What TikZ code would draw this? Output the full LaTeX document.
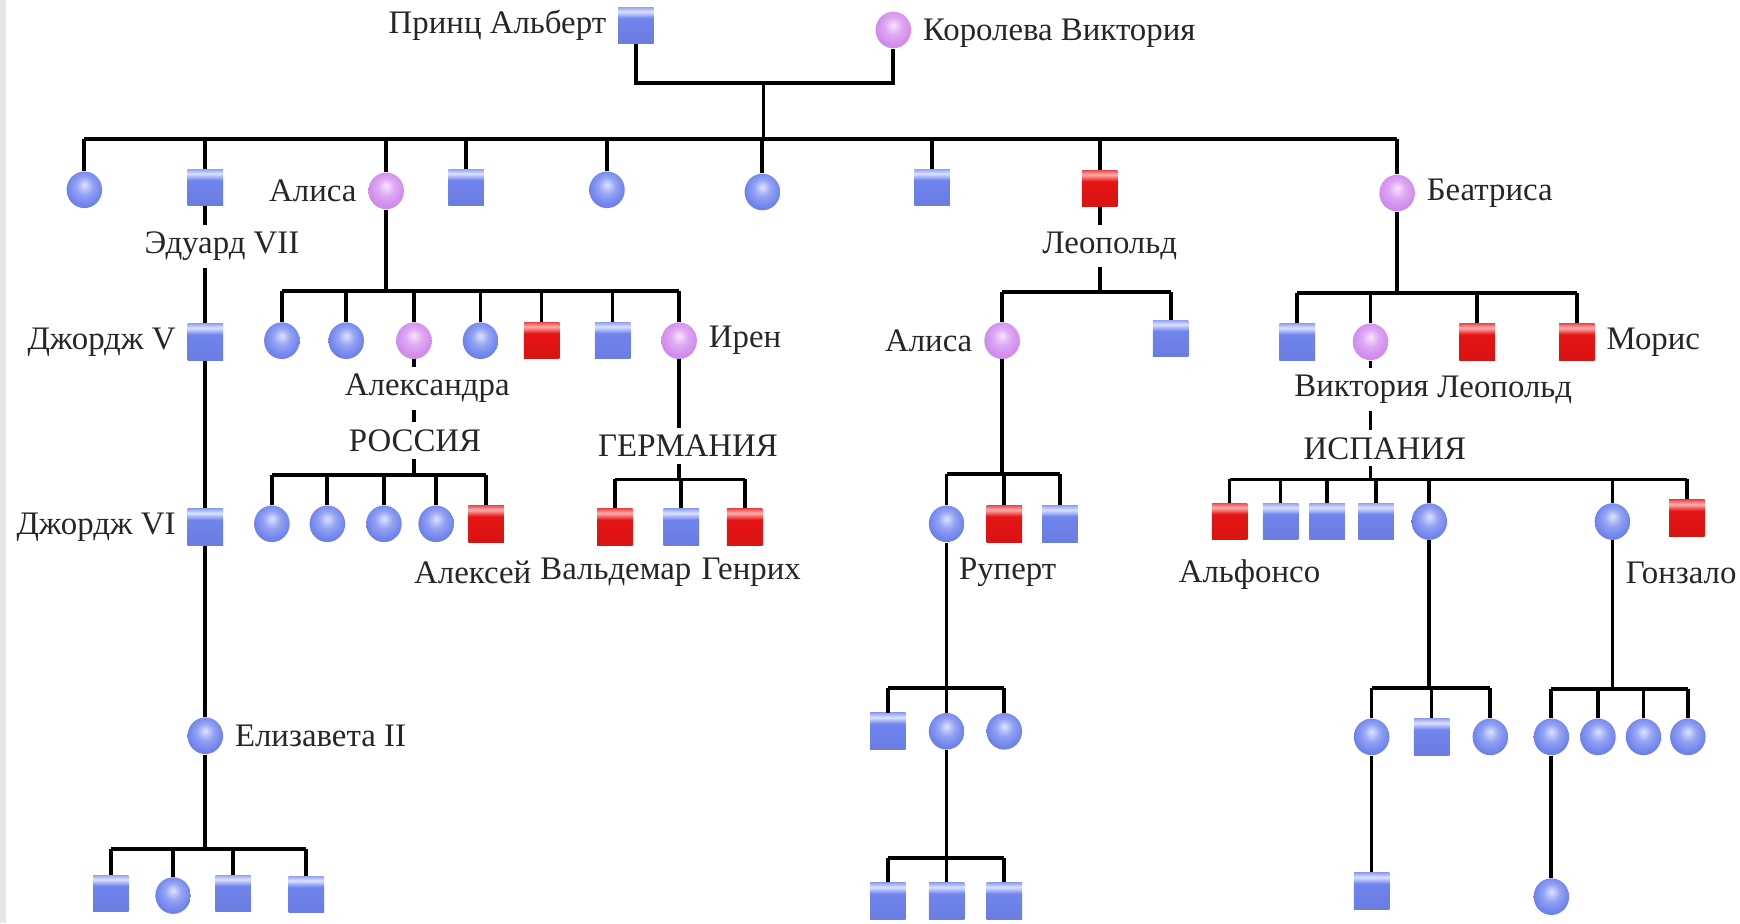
\documentclass[tikz,border=0pt]{standalone}
\usepackage{fontspec}
\setmainfont{Liberation Serif}
\usepackage{xcolor}
\usetikzlibrary{shapes.geometric, positioning}

\definecolor{pedBlue}{RGB}{112,132,238}
\definecolor{pedBlueLt}{RGB}{220,226,255}
\definecolor{pedPink}{RGB}{210,140,238}
\definecolor{pedPinkLt}{RGB}{250,226,255}
\definecolor{pedRed}{RGB}{230,20,20}
\definecolor{pedRedLt}{RGB}{255,175,175}

% glossy fills
\pgfdeclareradialshading{ballBlue}{\pgfpoint{0bp}{7bp}}{color(0bp)=(pedBlueLt); color(12bp)=(pedBlue!75!white); color(24bp)=(pedBlue); color(32bp)=(pedBlue!92!black); color(50bp)=(pedBlue!92!black)}
\pgfdeclareradialshading{ballPink}{\pgfpoint{0bp}{7bp}}{color(0bp)=(pedPinkLt); color(12bp)=(pedPink!75!white); color(24bp)=(pedPink); color(32bp)=(pedPink!94!black); color(50bp)=(pedPink!94!black)}
\pgfdeclareverticalshading{boxBlue}{100bp}{color(0bp)=(pedBlue!92!black); color(30bp)=(pedBlue!95!black); color(60bp)=(pedBlue); color(69bp)=(pedBlueLt); color(75bp)=(pedBlue!75!white); color(100bp)=(pedBlue!75!white)}
\pgfdeclareverticalshading{boxRed}{100bp}{color(0bp)=(pedRed!92!black); color(30bp)=(pedRed!95!black); color(60bp)=(pedRed); color(69bp)=(pedRedLt); color(75bp)=(pedRed!75!white); color(100bp)=(pedRed!75!white)}

\begin{document}
\begin{tikzpicture}[ % pedigree of Queen Victoria, haemophilia
    x=0.5pt, y=-0.5pt, % coordinates
    node distance=4pt,
    font=\fontsize{14.8}{16}\selectfont,
    man/.style={rectangle, inner sep=0pt, minimum width=16pt, minimum height=16.5pt, shading=boxBlue},
    woman/.style={ellipse, inner sep=0pt, minimum width=16pt, minimum height=16.5pt, shading=ballBlue},
    carrier/.style={woman, shading=ballPink},
    sick/.style={man, shading=boxRed},
    tag/.style={inner sep=1pt, text=black!85},
    gap/.style={tag, inner sep=3pt}, % label that cuts a line
    country/.style={gap},
    line/.style={draw, line width=1.7pt, black}
    ]
    \useasboundingbox (0,0) rectangle (1568,832);
    \fill[black!10] (0,0) rectangle (5,832);

    % Parents
    \node [man] (albert) at (573,23) {};
    \node [carrier] (victoria) at (805,27) {};
    \node [tag, left=of albert] (lblAlbert) {Принц Альберт};
    \node [tag, right=of victoria, yshift=-1.5pt] (lblVictoria) {Королева Виктория};
    \coordinate (wed) at (688,75);
    \coordinate (bar1) at (688,125);

    % Children
    \node [woman] (vicky) at (76,171) {};
    \node [man] (edward) at (185,169) {};
    \node [carrier] (alice) at (348,172) {};
    \node [man] (alfred) at (420,169) {};
    \node [woman] (helena) at (547,171) {};
    \node [woman] (louise) at (687,173) {};
    \node [man] (arthur) at (840,169) {};
    \node [sick] (leopold) at (991,170) {};
    \node [carrier] (beatrice) at (1259,174) {};
    \node [tag, left=of alice] (lblAlice) {Алиса};
    \node [gap] (lblEdward) at (200,222) {Эдуард VII};
    \node [gap] (lblLeopold) at (1000,222) {Леопольд};
    \node [tag, right=of beatrice] (lblBeatrice) {Беатриса};

    % Windsor line
    \node [man] (george5) at (185,308) {};
    \node [man] (george6) at (185,475) {};
    \node [woman] (lilibet) at (185,663) {};
    \node [tag, left=of george5] (lblGeorge5) {Джордж V};
    \node [tag, left=of george6] (lblGeorge6) {Джордж VI};
    \node [tag, right=of lilibet] (lblLilibet) {Елизавета II};
    \coordinate (barWindsor) at (185,765);
    \node [man] (charles) at (100,805) {};
    \node [woman] (anne) at (156,807) {};
    \node [man] (andrew) at (210,805) {};
    \node [man] (edwardW) at (276,806) {};

    % Hesse
    \coordinate (barHesse) at (348,262);
    \node [woman] (victoriaH) at (254,307) {};
    \node [woman] (ella) at (312,307) {};
    \node [carrier] (alexandra) at (373,307) {};
    \node [woman] (marie) at (433,307) {};
    \node [sick] (fritz) at (488,307) {};
    \node [man] (ernie) at (552,307) {};
    \node [carrier] (irene) at (612,307) {};
    \node [gap] (lblAlexandra) at (385,350) {Александра};
    \node [country] (lblRussia) at (374,397) {РОССИЯ};
    \node [tag, right=of irene] (lblIrene) {Ирен};
    \node [country] (lblGermany) at (620,402) {ГЕРМАНИЯ};

    % Russia
    \coordinate (barRussia) at (373,428);
    \node [woman] (olga) at (245,472) {};
    \node [woman] (tatiana) at (295,472) {};
    \node [woman] (maria) at (346,472) {};
    \node [woman] (anastasia) at (393,472) {};
    \node [sick] (alexei) at (438,472) {};
    \node [tag] (lblAlexei) at (426,516) {Алексей};

    % Prussia
    \coordinate (barPrussia) at (612,432);
    \node [sick] (waldemar) at (554,475) {};
    \node [man] (sigismund) at (614,475) {};
    \node [sick] (heinrich) at (671,475) {};
    \node [tag] (lblWaldemar) at (555,516) {Вальдемар};
    \node [tag] (lblHeinrich) at (677,516) {Генрих};

    % Albany
    \coordinate (barAlbany) at (991,263);
    \node [carrier] (aliceA) at (903,307) {};
    \node [man] (charlesE) at (1055,305) {};
    \node [tag, left=of aliceA] (lblAliceA) {Алиса};
    \coordinate (barAthlone) at (903,427);
    \node [woman] (mayF) at (853,472) {};
    \node [sick] (rupert) at (905,472) {};
    \node [man] (maurice2) at (955,472) {};
    \node [tag] (lblRupert) at (908,516) {Руперт};
    \coordinate (barMay) at (853,620);
    \node [man] (mayS1) at (800,659) {};
    \node [woman] (mayS2) at (853,659) {};
    \node [woman] (mayS3) at (905,659) {};
    \coordinate (barMay2) at (853,773);
    \node [man] (gen5a) at (800,812) {};
    \node [man] (gen5b) at (853,812) {};
    \node [man] (gen5c) at (905,812) {};

    % Battenberg
    \coordinate (barBattenberg) at (1259,264);
    \node [man] (alexB) at (1169,308) {};
    \node [carrier] (ena) at (1235,308) {};
    \node [sick] (leopoldB) at (1331,308) {};
    \node [sick] (maurice) at (1421,308) {};
    \node [gap] (lblEna) at (1227,351) {Виктория};
    \node [tag] (lblLeopoldB) at (1356,351) {Леопольд};
    \node [tag, right=of maurice] (lblMaurice) {Морис};
    \node [country] (lblSpain) at (1248,404) {ИСПАНИЯ};

    % Spain
    \coordinate (barSpain) at (1235,432);
    \node [sick] (alfonso) at (1108,470) {};
    \node [man] (jaime) at (1154,470) {};
    \node [man] (fernando) at (1196,470) {};
    \node [man] (juan) at (1240,470) {};
    \node [woman] (beatriz) at (1288,470) {};
    \node [woman] (cristina) at (1453,470) {};
    \node [sick] (gonzalo) at (1520,467) {};
    \node [tag] (lblAlfonso) at (1126,518) {Альфонсо};
    \node [tag] (lblGonzalo) at (1515,516) {Гонзало};
    \coordinate (barBeatriz) at (1288,620);
    \node [woman] (beaK1) at (1236,664) {};
    \node [man] (beaK2) at (1290,664) {};
    \node [woman] (beaK3) at (1343,664) {};
    \node [man] (beaG) at (1236,803) {};
    \coordinate (barCristina) at (1453,621);
    \node [woman] (criK1) at (1398,664) {};
    \node [woman] (criK2) at (1440,664) {};
    \node [woman] (criK3) at (1481,664) {};
    \node [woman] (criK4) at (1521,664) {};
    \node [woman] (criG) at (1398,808) {};

    % Draw lines
    \path [line] (albert) |- (wed) -| (victoria);
    \path [line] (wed) -- (bar1);
    \path [line] (vicky |- bar1) -- (beatrice |- bar1)
        (vicky |- bar1) -- (vicky) (edward |- bar1) -- (edward) (alice |- bar1) -- (alice)
        (alfred |- bar1) -- (alfred) (helena |- bar1) -- (helena) (louise |- bar1) -- (louise)
        (arthur |- bar1) -- (arthur) (leopold |- bar1) -- (leopold) (beatrice |- bar1) -- (beatrice);

    \path [line] (edward) -- (edward |- lblEdward.north) (edward |- lblEdward.south) -- (george5) -- (george6) -- (lilibet) -- (barWindsor);
    \path [line] (charles |- barWindsor) -- (edwardW |- barWindsor)
        (charles |- barWindsor) -- (charles) (anne |- barWindsor) -- (anne)
        (andrew |- barWindsor) -- (andrew) (edwardW |- barWindsor) -- (edwardW);

    \path [line] (alice) -- (barHesse);
    \path [line] (victoriaH |- barHesse) -- (irene |- barHesse)
        (victoriaH |- barHesse) -- (victoriaH) (ella |- barHesse) -- (ella) (alexandra |- barHesse) -- (alexandra)
        (marie |- barHesse) -- (marie) (fritz |- barHesse) -- (fritz) (ernie |- barHesse) -- (ernie) (irene |- barHesse) -- (irene);
    \path [line] (alexandra) -- (alexandra |- lblAlexandra.north) (alexandra |- lblAlexandra.south) -- (alexandra |- lblRussia.north) (alexandra |- lblRussia.south) -- (barRussia);
    \path [line] (olga |- barRussia) -- (alexei |- barRussia)
        (olga |- barRussia) -- (olga) (tatiana |- barRussia) -- (tatiana) (maria |- barRussia) -- (maria)
        (anastasia |- barRussia) -- (anastasia) (alexei |- barRussia) -- (alexei);
    \path [line] (irene) -- (irene |- lblGermany.north) (irene |- lblGermany.south) -- (barPrussia);
    \path [line] (waldemar |- barPrussia) -- (heinrich |- barPrussia)
        (waldemar |- barPrussia) -- (waldemar) (sigismund |- barPrussia) -- (sigismund) (heinrich |- barPrussia) -- (heinrich);

    \path [line] (leopold) -- (leopold |- lblLeopold.north) (leopold |- lblLeopold.south) -- (barAlbany);
    \path [line] (aliceA |- barAlbany) -- (charlesE |- barAlbany) (aliceA |- barAlbany) -- (aliceA) (charlesE |- barAlbany) -- (charlesE);
    \path [line] (aliceA) -- (barAthlone);
    \path [line] (mayF |- barAthlone) -- (maurice2 |- barAthlone)
        (mayF |- barAthlone) -- (mayF) (rupert |- barAthlone) -- (rupert) (maurice2 |- barAthlone) -- (maurice2);
    \path [line] (mayF) -- (barMay);
    \path [line] (mayS1 |- barMay) -- (mayS3 |- barMay)
        (mayS1 |- barMay) -- (mayS1) (mayS2 |- barMay) -- (mayS2) (mayS3 |- barMay) -- (mayS3);
    \path [line] (mayS2) -- (barMay2);
    \path [line] (gen5a |- barMay2) -- (gen5c |- barMay2)
        (gen5a |- barMay2) -- (gen5a) (gen5b |- barMay2) -- (gen5b) (gen5c |- barMay2) -- (gen5c);

    \path [line] (beatrice) -- (barBattenberg);
    \path [line] (alexB |- barBattenberg) -- (maurice |- barBattenberg)
        (alexB |- barBattenberg) -- (alexB) (ena |- barBattenberg) -- (ena)
        (leopoldB |- barBattenberg) -- (leopoldB) (maurice |- barBattenberg) -- (maurice);
    \path [line] (ena) -- (ena |- lblEna.north) (ena |- lblEna.south) -- (ena |- lblSpain.north) (ena |- lblSpain.south) -- (barSpain);
    \path [line] (alfonso |- barSpain) -- (gonzalo |- barSpain)
        (alfonso |- barSpain) -- (alfonso) (jaime |- barSpain) -- (jaime) (fernando |- barSpain) -- (fernando)
        (juan |- barSpain) -- (juan) (beatriz |- barSpain) -- (beatriz) (cristina |- barSpain) -- (cristina)
        (gonzalo |- barSpain) -- (gonzalo);
    \path [line] (beatriz) -- (barBeatriz);
    \path [line] (beaK1 |- barBeatriz) -- (beaK3 |- barBeatriz)
        (beaK1 |- barBeatriz) -- (beaK1) (beaK2 |- barBeatriz) -- (beaK2) (beaK3 |- barBeatriz) -- (beaK3);
    \path [line] (beaK1) -- (beaG);
    \path [line] (cristina) -- (barCristina);
    \path [line] (criK1 |- barCristina) -- (criK4 |- barCristina)
        (criK1 |- barCristina) -- (criK1) (criK2 |- barCristina) -- (criK2)
        (criK3 |- barCristina) -- (criK3) (criK4 |- barCristina) -- (criK4);
    \path [line] (criK1) -- (criG);

\end{tikzpicture}
\end{document}
